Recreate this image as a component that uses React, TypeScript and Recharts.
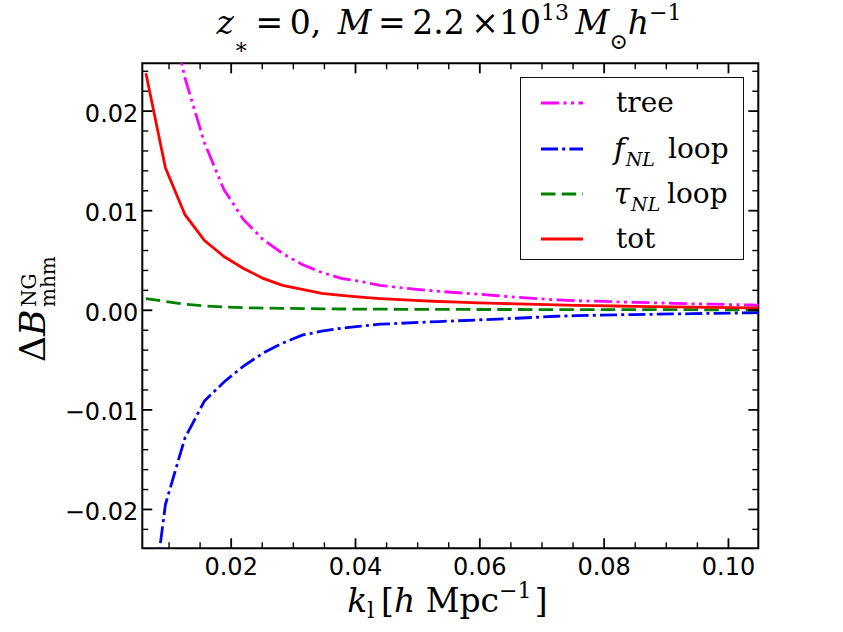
import React from 'react';
import { LineChart, Line, XAxis, YAxis, Legend, ReferenceArea, Label } from 'recharts';

// ---------- data ----------
const kValues = [
  0.00628, 0.00942, 0.01257, 0.01571, 0.01885, 0.02199, 0.02513, 0.02827, 0.03142, 0.03456,
  0.0377, 0.04084, 0.04398, 0.04712, 0.05027, 0.05341, 0.05655, 0.05969, 0.06283, 0.06597,
  0.06912, 0.07226, 0.0754, 0.07854, 0.08168, 0.08482, 0.08796, 0.09111, 0.09425, 0.09739,
  0.10053, 0.10367, 0.10681,
];
const treeValues = [
  0.057, 0.032, 0.0233, 0.0168, 0.0121, 0.0091, 0.0071, 0.0057, 0.0046, 0.0038,
  0.0032, 0.0029, 0.0025, 0.00228, 0.00208, 0.0019, 0.00176, 0.00162, 0.00146, 0.00131,
  0.00118, 0.00105, 0.00097, 0.00091, 0.00086, 0.0008, 0.00075, 0.0007, 0.00065, 0.00061,
  0.00057, 0.00053, 0.0005,
];
const fnlLoopValues = [
  -0.0347, -0.0195, -0.0128, -0.0091, -0.0072, -0.0056, -0.0043, -0.0033, -0.0025, -0.0021,
  -0.0018, -0.0016, -0.0014, -0.00131, -0.00122, -0.00113, -0.00105, -0.00097, -0.00088, -0.0008,
  -0.0007, -0.0006, -0.00054, -0.0005, -0.00046, -0.00043, -0.0004, -0.00037, -0.00034, -0.00031,
  -0.00028, -0.00025, -0.00023,
];
const tauLoopValues = [
  0.00118, 0.00088, 0.0006, 0.00044, 0.00032, 0.00026, 0.00022, 0.00019, 0.00017, 0.00015,
  0.00013, 0.00012, 0.00011, 0.0001, 0.0001, 0.00009, 0.00009, 0.00008, 0.00008, 0.00008,
  0.00007, 0.00007, 0.00007, 0.00007, 0.00006, 0.00006, 0.00006, 0.00006, 0.00006, 0.00005,
  0.00005, 0.00005, 0.00005,
];
const totValues = [
  0.0238, 0.0143, 0.0096, 0.007, 0.0054, 0.0042, 0.0032, 0.0025, 0.0021, 0.0017,
  0.0015, 0.00133, 0.00118, 0.00106, 0.00096, 0.00088, 0.00081, 0.00075, 0.00069, 0.00064,
  0.00059, 0.00054, 0.0005, 0.00046, 0.00043, 0.0004, 0.00037, 0.00034, 0.00031, 0.00029,
  0.00027, 0.00025, 0.00023,
];

const seriesKeys = ['tree', 'fnl', 'tau', 'tot'];

const xTicks = [
  0.01, 0.015, 0.02, 0.025, 0.03, 0.035, 0.04, 0.045, 0.05, 0.055,
  0.06, 0.065, 0.07, 0.075, 0.08, 0.085, 0.09, 0.095, 0.1,
];
const xMajorTicks = [0.02, 0.04, 0.06, 0.08, 0.1];
const yTicks = [
  -0.022, -0.02, -0.018, -0.016, -0.014, -0.012, -0.01, -0.008, -0.006, -0.004, -0.002,
  0, 0.002, 0.004, 0.006, 0.008, 0.01, 0.012, 0.014, 0.016, 0.018, 0.02, 0.022, 0.024,
];
const yMajorTicks = [-0.02, -0.01, 0, 0.01, 0.02];
const xDomain: [number, number] = [0.0057, 0.1048];
const yDomain: [number, number] = [-0.0239, 0.0248];

const data = kValues.map((k, i) => ({
  k,
  tree: treeValues[i],
  fnl: fnlLoopValues[i],
  tau: tauLoopValues[i],
  tot: totValues[i],
}));

// ---------- layout / style ----------
const W = 843;
const H = 632;
const PLOT = { left: 142.3, top: 63.3, right: 758.3, bottom: 548.3 };
const Y_AXIS_W = 70;
const X_AXIS_H = 40;
const MATH = "'DejaVu Serif', serif";
const SERIF = "'DejaVu Serif', serif";
const SANS = "'DejaVu Sans', sans-serif";

const STYLE: Record<string, { color: string; dash?: string }> = {
  tree: { color: '#ff00ff', dash: '18 4.5 3 4.5 3 4.5' },
  fnl: { color: '#0000ff', dash: '17 4.2 3 4.2' },
  tau: { color: '#008000', dash: '14.5 6.2' },
  tot: { color: '#ff0000' },
};
const LINE_W = 2.8;

const isIn = (arr: number[], v: number) => arr.some((m) => Math.abs(m - v) < 1e-9);
const fmt = (v: number) => (Math.abs(v) < 1e-12 ? '0.00' : (v < 0 ? '\u2212' : '') + Math.abs(v).toFixed(2));

function XTick(props: any) {
  const { x, payload } = props;
  const v = payload.value;
  const major = isIn(xMajorTicks, v);
  const len = major ? 10 : 6;
  const sw = major ? 1.8 : 1.4;
  return (
    <g>
      <line x1={x} x2={x} y1={PLOT.bottom} y2={PLOT.bottom - len} stroke="#000" strokeWidth={sw} />
      <line x1={x} x2={x} y1={PLOT.top} y2={PLOT.top + len} stroke="#000" strokeWidth={sw} />
      {major && (
        <text x={x} y={PLOT.bottom + 27} textAnchor="middle" fontFamily={SANS} fontSize={24} fill="#000">
          {fmt(v)}
        </text>
      )}
    </g>
  );
}

function YTick(props: any) {
  const { y, payload } = props;
  const v = payload.value;
  const major = isIn(yMajorTicks, v);
  const len = major ? 10 : 6;
  const sw = major ? 1.8 : 1.4;
  return (
    <g>
      <line x1={PLOT.left} x2={PLOT.left + len} y1={y} y2={y} stroke="#000" strokeWidth={sw} />
      <line x1={PLOT.right} x2={PLOT.right - len} y1={y} y2={y} stroke="#000" strokeWidth={sw} />
      {major && (
        <text x={PLOT.left - 4} y={y + 10.5} textAnchor="end" fontFamily={SANS} fontSize={24} fill="#000">
          {fmt(v)}
        </text>
      )}
    </g>
  );
}

const renderXLabel = () => (
  <text x={447.5} y={612} textAnchor="middle" fontFamily={MATH} fontSize={33} fill="#000">
    <tspan fontStyle="italic">k</tspan>
    <tspan fontSize={22} dy={6}>l</tspan>
    <tspan dy={-6}>{'\u2009['}</tspan>
    <tspan fontStyle="italic">h</tspan>
    <tspan>{' Mpc'}</tspan>
    <tspan fontSize={22} dy={-14}>{'\u22121'}</tspan>
    <tspan dy={14}>{'\u200a]'}</tspan>
  </text>
);

const renderYLabel = () => (
  <g transform="translate(45, 362) rotate(-90)">
    <text x={0} y={0} fontFamily={MATH} fontSize={36} fill="#000">
      {'\u0394'}
      <tspan fontStyle="italic">B</tspan>
    </text>
    <text x={55} y={-9} fontFamily={MATH} fontSize={20} fill="#000">NG</text>
    <text x={55} y={10} fontFamily={MATH} fontSize={20} fill="#000">mhm</text>
  </g>
);

const renderTitle = () => (
  <text x={449} y={34} textAnchor="middle" fontFamily={MATH} fontSize={33} fill="#000">
    <tspan fontStyle="italic">z</tspan>
    <tspan fontSize={22} dy={20}>{'\u2217'}</tspan>
    <tspan dy={-20}>{'\u2009=\u20090,\u2002'}</tspan>
    <tspan fontStyle="italic">M</tspan>
    <tspan>{'\u2009=\u20092.2\u2009\u00d710'}</tspan>
    <tspan fontSize={22} dy={-14}>13</tspan>
    <tspan dy={14}>{'\u2009'}</tspan>
    <tspan fontStyle="italic">M</tspan>
    <tspan fontSize={22} dy={15}>{'\u2299'}</tspan>
    <tspan dy={-15} fontStyle="italic">h</tspan>
    <tspan fontSize={22} dy={-14}>{'\u22121'}</tspan>
  </text>
);

const LEGEND_BOX = { left: 520, top: 77.3, width: 224.3, height: 182.7 };
const LEGEND_ROW0 = 25;
const LEGEND_STEP = 45.4;

function legendText(key: string) {
  const word = (s: string, left: number) => (
    <span style={{ position: 'absolute', left, top: 0, lineHeight: '40px', fontFamily: SERIF, fontSize: 28 }}>{s}</span>
  );
  const math = (sym: string) => (
    <span style={{ position: 'absolute', left: 93, top: 0, lineHeight: '40px', fontFamily: MATH, fontSize: 29 }}>
      <i>{sym}</i>
      <i style={{ fontSize: 19, position: 'relative', top: 7, marginLeft: 1 }}>NL</i>
    </span>
  );
  if (key === 'fnl') return [math('f'), word('loop', 147)];
  if (key === 'tau') return [math('\u03c4'), word('loop', 146)];
  return [word(key, 95)];
}

function LegendContent(props: any) {
  const payload: any[] = props.payload || [];
  const byKey: Record<string, any> = {};
  payload.forEach((e) => {
    byKey[String(e.dataKey)] = e;
  });
  return (
    <div
      style={{
        position: 'relative',
        width: LEGEND_BOX.width,
        height: LEGEND_BOX.height,
        boxSizing: 'border-box',
        border: '1.3px solid #111',
        background: '#fff',
        color: '#000',
      }}
    >
      {seriesKeys.map((key, i) => {
        const st = STYLE[key];
        const color = byKey[key]?.color || st.color;
        return (
          <div key={key} style={{ position: 'absolute', left: 0, right: 0, top: LEGEND_ROW0 + i * LEGEND_STEP - 20, height: 40 }}>
            <svg width={44} height={10} style={{ position: 'absolute', left: 19, top: 15 }}>
              <line x1={1} x2={43} y1={5} y2={5} stroke={color} strokeWidth={LINE_W} strokeDasharray={st.dash} />
            </svg>
            {legendText(key).map((el, j) => (
              <React.Fragment key={j}>{el}</React.Fragment>
            ))}
          </div>
        );
      })}
    </div>
  );
}

export default function App() {
  return (
    <div style={{ position: 'absolute', left: 0, top: 0, width: W, height: H, background: '#fff' }}>
      <LineChart
        width={W}
        height={H}
        data={data}
        margin={{
          top: PLOT.top,
          right: W - PLOT.right,
          left: PLOT.left - Y_AXIS_W,
          bottom: H - PLOT.bottom - X_AXIS_H,
        }}
      >
        <XAxis
          dataKey="k"
          type="number"
          domain={xDomain}
          allowDataOverflow
          ticks={xTicks}
          interval={0}
          height={X_AXIS_H}
          axisLine={false}
          tickLine={false}
          tick={(p: any) => <XTick {...p} />}
          label={<Label content={renderXLabel} />}
        />
        <YAxis
          type="number"
          domain={yDomain}
          allowDataOverflow
          ticks={yTicks}
          interval={0}
          width={Y_AXIS_W}
          axisLine={false}
          tickLine={false}
          tick={(p: any) => <YTick {...p} />}
          label={<Label content={renderYLabel} />}
        />
        <Line dataKey="tree" name="tree" type="linear" stroke={STYLE.tree.color} strokeWidth={LINE_W} strokeDasharray={STYLE.tree.dash} dot={false} isAnimationActive={false} />
        <Line dataKey="fnl" name="fNL loop" type="linear" stroke={STYLE.fnl.color} strokeWidth={LINE_W} strokeDasharray={STYLE.fnl.dash} dot={false} isAnimationActive={false} />
        <Line dataKey="tau" name="tauNL loop" type="linear" stroke={STYLE.tau.color} strokeWidth={LINE_W} strokeDasharray={STYLE.tau.dash} dot={false} isAnimationActive={false} />
        <Line dataKey="tot" name="tot" type="linear" stroke={STYLE.tot.color} strokeWidth={LINE_W} dot={false} isAnimationActive={false} />
        <ReferenceArea
          x1={xDomain[0]}
          x2={xDomain[1]}
          y1={yDomain[0]}
          y2={yDomain[1]}
          fill="none"
          fillOpacity={0}
          stroke="#000"
          strokeWidth={2}
          strokeOpacity={1}
          ifOverflow="visible"
          label={<Label content={renderTitle} />}
        />
        <Legend
          layout="vertical"
          align="center"
          verticalAlign="middle"
          content={(p: any) => <LegendContent {...p} />}
          wrapperStyle={{
            position: 'absolute',
            left: LEGEND_BOX.left,
            top: LEGEND_BOX.top,
            width: LEGEND_BOX.width,
            height: LEGEND_BOX.height,
            margin: 0,
            padding: 0,
          }}
        />
      </LineChart>
    </div>
  );
}
